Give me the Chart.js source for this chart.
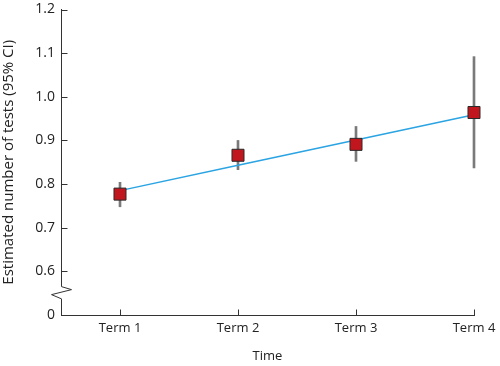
<!DOCTYPE html>
<html>
<head>
<meta charset="utf-8">
<script src="https://cdn.jsdelivr.net/npm/chart.js@4"></script>
<style>
  html, body { margin: 0; padding: 0; background: #fff; }
  #wrap { width: 500px; height: 366px; }
</style>
</head>
<body>
<div id="wrap"><canvas id="chart"></canvas></div>
<script>
// Estimated number of tests per term, with 95% CI

// Data
const terms = ['Term 1', 'Term 2', 'Term 3', 'Term 4'];
const estimates = [0.777, 0.866, 0.891, 0.964];
const ciLow = [0.748, 0.833, 0.852, 0.837];
const ciHigh = [0.804, 0.900, 0.932, 1.092];
const trend = [0.785, 0.843, 0.901, 0.959];

// y axis is broken between 0 and 0.6, so "0" sits at 0.5
const yTickValues = [0.5, 0.6, 0.7, 0.8, 0.9, 1.0, 1.1, 1.2];
const yTickLabels = ['0', '0.6', '0.7', '0.8', '0.9', '1.0', '1.1', '1.2'];

const FONT = 'Open Sans';
const TEXT = '#222';
const AXIS = '#333';

const xs = terms.map((_, i) => i + 1);

// inward ticks + axis break
const axisExtras = {
  id: 'axisExtras',
  afterDatasetsDraw(chart) {
    const ctx = chart.ctx;
    const area = chart.chartArea;
    const x = chart.scales.x;
    const y = chart.scales.y;
    const ax = Math.round(area.left) + 0.5;
    const ay = Math.round(area.bottom) + 0.5;
    ctx.save();
    ctx.strokeStyle = AXIS;
    ctx.lineWidth = 1;
    ctx.beginPath();
    // y ticks pointing right
    for (const v of yTickValues.slice(1)) {
      const py = Math.round(y.getPixelForValue(v)) + 0.5;
      ctx.moveTo(ax, py);
      ctx.lineTo(ax + 6, py);
    }
    // x ticks pointing up
    for (const v of xs) {
      const px = Math.round(x.getPixelForValue(v)) + 0.5;
      ctx.moveTo(px, ay);
      ctx.lineTo(px, ay - 6);
    }
    ctx.stroke();
    // break on the y axis
    const top = y.getPixelForValue(0.565);
    const bot = y.getPixelForValue(0.537);
    ctx.fillStyle = '#fff';
    ctx.fillRect(ax - 2, top, 4, bot - top);
    ctx.beginPath();
    ctx.moveTo(ax, top);
    ctx.lineTo(ax + 10, top + 3);
    ctx.lineTo(ax - 10, top + 8);
    ctx.lineTo(ax, bot);
    ctx.stroke();
    ctx.restore();
  }
};

new Chart(document.getElementById('chart'), {
  data: {
    datasets: [
      {
        type: 'scatter',
        data: xs.map((x, i) => ({ x, y: estimates[i] })),
        pointStyle: 'rect',
        pointRadius: 8.5,
        pointHoverRadius: 8.5,
        backgroundColor: '#c1161e',
        borderColor: '#2a2a2a',
        borderWidth: 1,
        clip: false,
        order: 0
      },
      {
        type: 'line',
        data: xs.map((x, i) => ({ x, y: trend[i] })),
        borderColor: '#2aa4e2',
        borderWidth: 1.5,
        pointRadius: 0,
        fill: false,
        clip: false,
        order: 1
      },
      {
        type: 'bar',
        data: xs.map((x, i) => ({ x, y: [ciLow[i], ciHigh[i]] })),
        backgroundColor: '#7a7a7a',
        barThickness: 2,
        clip: false,
        order: 2
      }
    ]
  },
  options: {
    responsive: true,
    maintainAspectRatio: false,
    animation: false,
    layout: { padding: { top: -2, right: 26, left: 0, bottom: 0 } },
    plugins: { legend: { display: false }, tooltip: { enabled: false } },
    scales: {
      x: {
        type: 'linear',
        offset: false,
        min: 0.5,
        max: 4,
        afterBuildTicks: s => { s.ticks = xs.map(v => ({ value: v })); },
        afterFit: s => { s.height = 51; },
        grid: { display: false, tickLength: 5 },
        border: { display: true, color: AXIS, width: 1 },
        ticks: {
          color: TEXT,
          font: { family: FONT, size: 13 },
          padding: 0,
          maxRotation: 0,
          callback: v => terms[v - 1]
        },
        title: {
          display: true,
          text: 'Time',
          color: TEXT,
          font: { family: FONT, size: 13 },
          padding: { top: 4, bottom: 2 }
        }
      },
      y: {
        type: 'linear',
        min: 0.5,
        max: 1.2,
        afterBuildTicks: s => { s.ticks = yTickValues.map(v => ({ value: v })); },
        afterFit: s => { s.width = 61; },
        grid: { display: false, tickLength: 6 },
        border: { display: true, color: AXIS, width: 1 },
        ticks: {
          color: TEXT,
          font: { family: FONT, size: 14 },
          padding: 0,
          callback: (v, i) => yTickLabels[i]
        },
        title: {
          display: true,
          text: 'Estimated number of tests (95% CI)',
          color: TEXT,
          font: { family: FONT, size: 15 },
          padding: { top: 0, bottom: 0 }
        }
      }
    }
  },
  plugins: [axisExtras]
});
</script>
</body>
</html>
